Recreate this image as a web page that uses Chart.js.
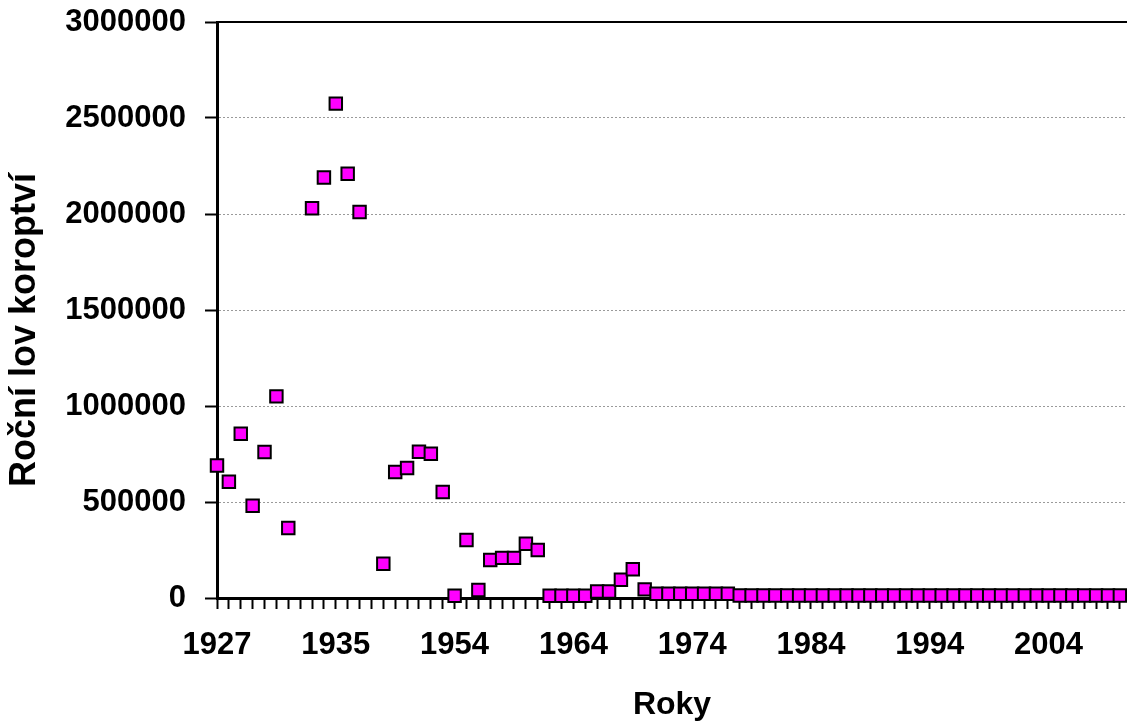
<!DOCTYPE html>
<html>
<head>
<meta charset="utf-8">
<script src="https://cdn.jsdelivr.net/npm/chart.js@4"></script>
<style>
  body { margin: 0; background: #fff; }
  canvas { display: block; }
</style>
</head>
<body>
<canvas id="lov" width="1127" height="724"></canvas>
<script>
// kategorie osy x (zobrazen je jen kazdy desaty popisek)
const roky = [
    '1927', '1928', '1929', '1930', '1931', '1932', '1932/33', '', '1933', '1934',
    '1935', '1936', '1937', '', '1948', '1949', '1950', '1951', '1952', '1953',
    '1954', '1955', '1956', '1957', '1958', '1959', '1960', '1961', '1962', '1963',
    '1964', '1965', '1966', '1967', '1968', '1969', '1970', '1971', '1972', '1973',
    '1974', '1975', '1976', '1977', '1978', '1979', '1980', '1981', '1982', '1983',
    '1984', '1985', '1986', '1987', '1988', '1989', '1990', '1991', '1992', '1993',
    '1994', '1995', '1996', '1997', '1998', '1999', '2000', '2001', '2002', '2003',
    '2004', '2005', '2006', '2007', '2008', '2009', '2010'
];

// rocni lov koroptvi
const lov = [
    690000, 605000, 855000, 480000, 760000, 1050000, 365000, null, 2030000, 2190000,
    2575000, 2210000, 2010000, null, 178000, 656000, 677000, 762000, 751000, 552000,
    12000, 302000, 42000, 198000, 209000, 209000, 283000, 250000, 12000, 12000,
    12000, 12000, 34000, 34000, 95000, 150000, 45000, 22000, 22000, 22000,
    22000, 22000, 22000, 22000, 13000, 13000, 13000, 13000, 13000, 13000,
    13000, 13000, 13000, 13000, 13000, 13000, 13000, 13000, 13000, 13000,
    13000, 13000, 13000, 13000, 13000, 13000, 13000, 13000, 13000, 13000,
    13000, 13000, 13000, 13000, 13000, 13000, 13000
];

const yTicks = [0, 500000, 1000000, 1500000, 2000000, 2500000, 3000000];

const pismo = "'Liberation Sans', Arial, sans-serif";

const lovChart = new Chart(
    document.getElementById('lov'),
    {
        type: 'line',
        data: {
            datasets: [{
                label: 'Roční lov koroptví',
                data: lov.map((v, i) => ({ x: i, y: v })),
                showLine: false,
                pointStyle: 'rect',
                pointRadius: 8.8,
                pointHoverRadius: 8.8,
                pointBackgroundColor: '#FF00FF',
                pointBorderColor: '#000000',
                pointBorderWidth: 2,
                clip: false
            }]
        },
        options: {
            responsive: false,
            animation: false,
            devicePixelRatio: 1,
            layout: {
                autoPadding: false,
                padding: { top: 22, right: 0, bottom: 0, left: 0 }
            },
            plugins: {
                legend: { display: false },
                tooltip: { enabled: false }
            },
            scales: {
                x: {
                    type: 'linear',
                    min: 0,
                    max: roky.length - 0.4,
                    afterFit: scale => {
                        scale.height = 126;
                        scale.paddingLeft = 0;
                        scale.paddingRight = 0;
                    },
                    border: { color: '#000', width: 3 },
                    grid: {
                        drawOnChartArea: false,
                        tickLength: 11,
                        tickWidth: 2,
                        tickColor: '#000'
                    },
                    ticks: {
                        stepSize: 1,
                        includeBounds: false,
                        autoSkip: false,
                        maxRotation: 0,
                        padding: 18,
                        color: '#000',
                        font: { family: pismo, size: 31, weight: 'bold' },
                        callback: v => (v % 10 === 0 ? roky[v] : '')
                    },
                    title: {
                        display: true,
                        text: 'Roky',
                        color: '#000',
                        font: { family: pismo, size: 32, weight: 'bold' },
                        padding: { top: 0, bottom: 0 }
                    }
                },
                xTop: {
                    type: 'linear',
                    position: 'top',
                    min: 0,
                    max: roky.length - 0.4,
                    afterFit: scale => {
                        scale.height = 0;
                        scale.paddingLeft = 0;
                        scale.paddingRight = 0;
                    },
                    border: { color: '#000', width: 2 },
                    grid: { drawOnChartArea: false, drawTicks: false },
                    ticks: { display: false }
                },
                y: {
                    min: 0,
                    max: 3000000,
                    afterFit: scale => {
                        scale.width = 217;
                        scale.paddingTop = 0;
                        scale.paddingBottom = 0;
                    },
                    afterBuildTicks: scale => {
                        scale.ticks = yTicks.map(v => ({ value: v }));
                    },
                    border: { color: '#000', width: 3, dash: [2, 2] },
                    grid: {
                        color: '#9a9a9a',
                        lineWidth: 1,
                        tickLength: 12,
                        tickWidth: 2,
                        tickColor: '#000'
                    },
                    ticks: {
                        padding: 19,
                        color: '#000',
                        font: { family: pismo, size: 31, weight: 'bold' },
                        callback: v => String(v)
                    },
                    title: {
                        display: true,
                        text: 'Roční lov koroptví    ',
                        color: '#000',
                        font: { family: pismo, size: 36, weight: 'bold' },
                        padding: { top: 3, bottom: 0 }
                    }
                }
            }
        }
    }
);
</script>
</body>
</html>
